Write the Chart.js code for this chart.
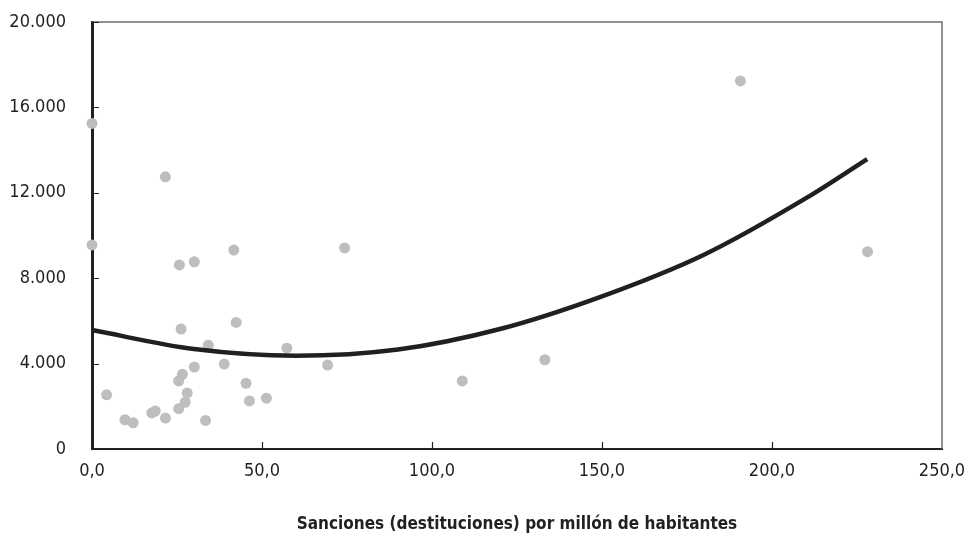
<!DOCTYPE html>
<html>
<head>
<meta charset="utf-8">
<script src="https://cdn.jsdelivr.net/npm/chart.js@4/dist/chart.umd.min.js"></script>
<style>
  html, body { margin: 0; padding: 0; background: #fff; }
  #chart { display: block; }
</style>
</head>
<body>
<canvas id="chart" width="969" height="537"></canvas>
<script>
// Scatter points (x: sanciones por millón, y: value)
const pointsX = [0, 0, 21.6, 25.7, 30.1, 41.7, 26.2, 42.4, 34.2, 57.3, 69.3, 38.9, 30.1, 26.6,
  25.5, 45.3, 4.3, 28.0, 27.4, 25.5, 46.3, 51.3, 18.6, 17.6, 21.6, 9.7, 12.1, 33.4,
  74.3, 133.2, 108.9, 190.7, 228.1];
const pointsY = [15250, 9560, 12750, 8620, 8770, 9320, 5620, 5930, 4860, 4720, 3930, 3980, 3840, 3500,
  3190, 3080, 2540, 2620, 2190, 1890, 2250, 2380, 1780, 1690, 1450, 1370, 1230, 1340,
  9420, 4180, 3190, 17240, 9240];

// Trend curve
const trendX = [0, 30, 60, 90, 120, 150, 180, 210, 228];
const trendY = [5570, 4680, 4370, 4660, 5620, 7150, 9100, 11750, 13580];

const xTicks = [0, 50, 100, 150, 200, 250];
const yTicks = [0, 4000, 8000, 12000, 16000, 20000];

const FONT = "'DejaVu Sans Condensed', 'Liberation Sans Narrow', Arial, sans-serif";

const scatterData = pointsX.map((x, i) => ({ x: x, y: pointsY[i] }));
const trendData = trendX.map((x, i) => ({ x: x, y: trendY[i] }));

// frame (thin top/right) and inside tick marks
const framePlugin = {
  id: 'frame',
  beforeDatasetsDraw(chart) {
    const { ctx, chartArea: a, scales } = chart;
    ctx.save();
    ctx.strokeStyle = '#6d6e70';
    ctx.lineWidth = 1.5;
    ctx.beginPath();
    ctx.moveTo(a.left, a.top);
    ctx.lineTo(a.right, a.top);
    ctx.lineTo(a.right, a.bottom);
    ctx.stroke();

    ctx.strokeStyle = '#231f20';
    ctx.lineWidth = 1.2;
    ctx.beginPath();
    yTicks.forEach(v => {
      const y = Math.round(scales.y.getPixelForValue(v)) + 0.5;
      ctx.moveTo(a.left, y);
      ctx.lineTo(a.left + 7, y);
    });
    xTicks.slice(1, -1).forEach(v => {
      const x = Math.round(scales.x.getPixelForValue(v)) + 0.5;
      ctx.moveTo(x, a.bottom);
      ctx.lineTo(x, a.bottom - 7);
    });
    ctx.stroke();
    ctx.restore();
  }
};

new Chart(document.getElementById('chart').getContext('2d'), {
  type: 'scatter',
  data: {
    datasets: [
      {
        type: 'line',
        data: trendData,
        borderColor: '#231f20',
        borderWidth: 4.5,
        pointRadius: 0,
        fill: false,
        cubicInterpolationMode: 'monotone',
        clip: false
      },
      {
        data: scatterData,
        backgroundColor: '#bcbec0',
        borderWidth: 0,
        pointRadius: 5.5,
        clip: false
      }
    ]
  },
  options: {
    responsive: false,
    animation: false,
    layout: { padding: { left: 0, right: 27, top: 22, bottom: 0 } },
    plugins: {
      legend: { display: false },
      tooltip: { enabled: false }
    },
    scales: {
      x: {
        type: 'linear',
        min: 0,
        max: 250,
        afterBuildTicks: s => { s.ticks = xTicks.map(v => ({ value: v })); },
        afterFit: s => {
          s.height = 88;
          s.paddingLeft = 0;
          s.paddingRight = 0;
        },
        grid: { display: false, drawTicks: false },
        border: { display: true, color: '#231f20', width: 2 },
        ticks: {
          padding: 12,
          color: '#231f20',
          font: { family: FONT, size: 18 },
          callback: v => v.toFixed(1).replace('.', ',')
        },
        title: {
          display: true,
          text: 'Sanciones (destituciones) por millón de habitantes',
          color: '#231f20',
          font: { family: FONT, size: 17, weight: 'bold' },
          padding: { top: 0, bottom: 2 }
        }
      },
      y: {
        type: 'linear',
        min: 0,
        max: 20000,
        afterBuildTicks: s => { s.ticks = yTicks.map(v => ({ value: v })); },
        afterFit: s => {
          s.width = 92;
          s.paddingTop = 0;
          s.paddingBottom = 0;
        },
        grid: { display: false, drawTicks: false },
        border: { display: true, color: '#231f20', width: 3 },
        ticks: {
          padding: 26,
          color: '#231f20',
          font: { family: FONT, size: 18 },
          callback: v => v.toLocaleString('de-DE')
        }
      }
    }
  },
  plugins: [framePlugin]
});
</script>
</body>
</html>
